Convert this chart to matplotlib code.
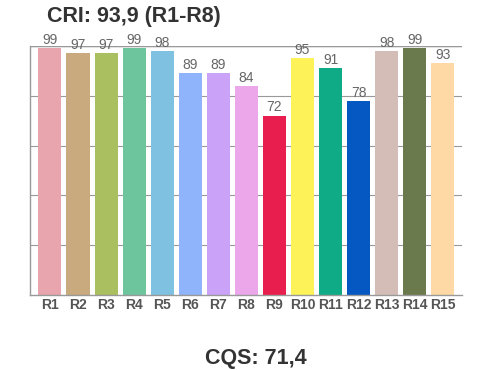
import numpy as np
import matplotlib
matplotlib.use('Agg')
import matplotlib.pyplot as plt

labels = ['R1', 'R2', 'R3', 'R4', 'R5', 'R6', 'R7', 'R8', 'R9', 'R10',
          'R11', 'R12', 'R13', 'R14', 'R15']
values = [99, 97, 97, 99, 98, 89, 89, 84, 72, 95, 91, 78, 98, 99, 93]
colors = ['#e8a5ae', '#c9aa7e', '#a9bf60', '#6cc59d', '#7fc1e0', '#90b4fb',
          '#caa3f9', '#eba7ea', '#e81e4f', '#fdf358', '#0fab86', '#0557c2',
          '#d3bdb6', '#6a7a4d', '#fed9a6']
title_top = 'CRI: 93,9 (R1-R8)'
title_bottom = 'CQS: 71,4'

plt.rcParams['font.family'] = ['Liberation Sans', 'DejaVu Sans']

fig = plt.figure(figsize=(5, 3.7), dpi=100)
ax = fig.add_axes([0.06, 0.2027, 0.864, 0.673])

x = np.arange(len(labels))
ax.bar(x, values, width=0.82, color=colors, zorder=2)
for xi, v in zip(x, values):
    ax.text(xi, v + 0.5, str(v), ha='center', va='bottom', fontsize=10,
            color='#666666')

ax.set_xlim(-0.71, 14.68)
ax.set_ylim(0, 100)
ax.set_yticks([20, 40, 60, 80, 100])
ax.set_yticklabels([])
ax.tick_params(axis='y', length=0)
ax.grid(axis='y', color='#999999', linewidth=0.8, zorder=1)
ax.axhline(100, color='#888888', linewidth=1, zorder=1)
ax.set_xticks(x)
ax.set_xticklabels(labels, fontsize=10, fontweight='bold', color='#555555')
ax.tick_params(axis='x', length=0, pad=2)
for s in ['top', 'right']:
    ax.spines[s].set_visible(False)
for s in ['left', 'bottom']:
    ax.spines[s].set_color('#999999')
    ax.spines[s].set_linewidth(1)

fig.text(0.094, 0.955, title_top, fontsize=15.5, fontweight='bold',
         color='#333333', ha='left', va='center')
fig.text(0.512, 0.016, title_bottom, fontsize=15.5, fontweight='bold',
         color='#333333', ha='center', va='baseline')

fig.savefig('out.png', dpi=100)
